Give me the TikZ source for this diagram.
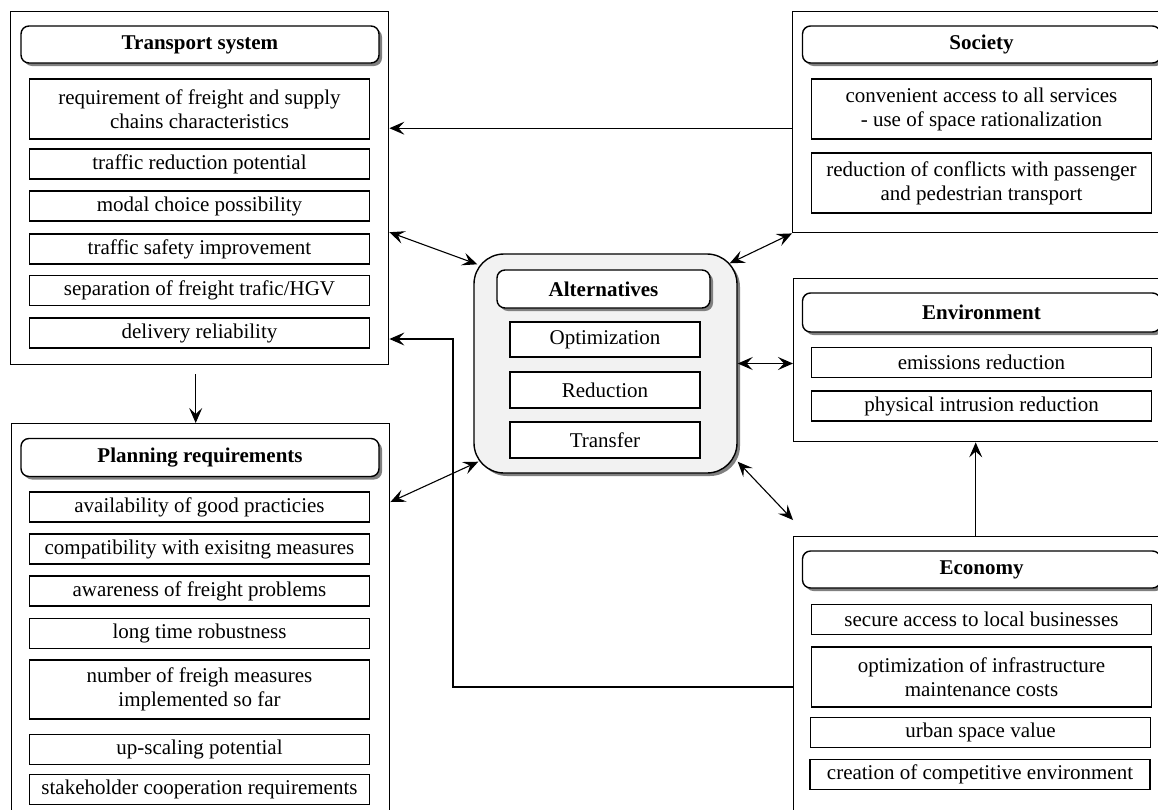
\documentclass[tikz,border=0pt]{standalone}
\usepackage{fontspec}
\setmainfont{Liberation Serif}
\usetikzlibrary{positioning, shadows, arrows.meta}
\tikzset{
    group/.style = {
        draw, line width = 1.4pt,
        minimum width = 378pt,
        anchor = north west, inner sep = 0pt
    },
    head/.style = {
        draw, line width = 1.4pt, fill = white,
        rounded corners = 8pt,
        minimum width = 358pt, minimum height = 37pt,
        inner sep = 0pt, font = \fontsize{21}{24}\selectfont\bfseries,
        drop shadow = {shadow xshift = 3pt, shadow yshift = -3pt, fill = black!50, opacity = 1}
    },
    item/.style = {
        draw, line width = 1.3pt, fill = white,
        minimum width = 340pt, minimum height = 30pt,
        inner sep = 0pt, align = center
    },
    >={Stealth[length=15pt, width=13pt, inset=6pt]},
    line/.style = {->, line width = 1.1pt},
    dline/.style = {<->, line width = 1.1pt}
}

\begin{document}
\begin{tikzpicture}[x=1pt, y=-1pt, font=\fontsize{21}{24}\selectfont]
    \useasboundingbox (0,0) rectangle (1158,809);

    % Groups
    \node[group, minimum height = 353pt] (transport) at (10,11) {};
    \node[group, minimum height = 392pt] (plan) at (11,423) {};
    \node[group, minimum height = 221pt] (society) at (792,11) {};
    \node[group, minimum height = 163pt] (env) at (793,278) {};
    \node[group, minimum height = 280pt] (econ) at (793,536) {};

    % Transport system
    \node[head] (transHead) at (200,44.5) {Transport system};
    \node[item, minimum height = 60pt] (tr1) at (199.5,109) {requirement of freight and supply\\chains characteristics};
    \node[item] (tr2) at (199.5,164) {traffic reduction potential};
    \node[item] (tr3) at (199.5,206) {modal choice possibility};
    \node[item] (tr4) at (199.5,249) {traffic safety improvement};
    \node[item] (tr5) at (199.5,290.5) {separation of freight trafic/HGV};
    \node[item] (tr6) at (199.5,333) {delivery reliability};

    % Planning requirements
    \node[head, minimum height = 38pt] (planHead) at (200,457.5) {Planning requirements};
    \node[item] (pl1) at (199.5,507) {availability of good practicies};
    \node[item] (pl2) at (199.5,549) {compatibility with exisitng measures};
    \node[item] (pl3) at (199.5,591) {awareness of freight problems};
    \node[item] (pl4) at (199.5,633.5) {long time robustness};
    \node[item, minimum height = 59pt] (pl5) at (199.5,689.5) {number of freigh measures\\implemented so far};
    \node[item] (pl6) at (199.5,749.5) {up-scaling potential};
    \node[item] (pl7) at (199.5,789.5) {stakeholder cooperation requirements};

    % Alternatives
    \node[draw, line width = 1.4pt, fill = black!5,
        rounded corners = 30pt,
        minimum width = 263pt, minimum height = 219pt,
        drop shadow = {shadow xshift = 3pt, shadow yshift = -3pt, fill = black!50, opacity = 1}
    ] (alt) at (605.5,363.5) {};
    \node[head, minimum width = 213pt, minimum height = 38pt] (altHead) at (603.5,289) {Alternatives};
    \node[item, minimum width = 190pt, minimum height = 35pt] (opt) at (605,339.5) {Optimization};
    \node[item, minimum width = 190pt, minimum height = 36pt] (red) at (605,390) {Reduction};
    \node[item, minimum width = 190pt, minimum height = 36pt] (trf) at (605,440) {Transfer};

    % Society
    \node[head] (socHead) at (981.5,44.5) {Society};
    \node[item, minimum height = 60pt] (so1) at (981.5,109) {convenient access to all services\\- use of space rationalization};
    \node[item, minimum height = 60pt] (so2) at (981.5,183) {reduction of conflicts with passenger\\and pedestrian transport};

    % Environment
    \node[head, minimum height = 39pt] (envHead) at (981.5,312.5) {Environment};
    \node[item] (en1) at (981.5,362.5) {emissions reduction};
    \node[item] (en2) at (981.5,406) {physical intrusion reduction};

    % Economy
    \node[head] (econHead) at (981.5,569.5) {Economy};
    \node[item] (ec1) at (981.5,619.5) {secure access to local businesses};
    \node[item, minimum height = 60pt] (ec2) at (981.5,677) {optimization of infrastructure\\maintenance costs};
    \node[item] (ec3) at (980.5,732.5) {urban space value};
    \node[item] (ec4) at (980,774.5) {creation of competitive environment};

    % Lines
    \coordinate (bend) at (453,339);
    \draw[line] ([yshift=-6pt]society.west) -- ([yshift=-6pt]society.west -| transport.east);
    \draw[dline] ([yshift=-44pt]transport.east) -- ([xshift=4pt, yshift=-11pt]alt.north west);
    \draw[dline] (society.south west) -- ([xshift=-8pt, yshift=-10pt]alt.north east);
    \draw[dline] (alt.east) -- (alt.east -| env.west);
    \draw[dline] ([yshift=-79pt]plan.north east) -- ([xshift=5pt, yshift=12pt]alt.south west);
    \draw[dline] ([yshift=12pt]alt.south east) -- ([yshift=16pt]econ.north west);
    \draw[line] ([xshift=-7pt]econ.north) -- ([xshift=-7pt]env.south);
    \draw[line] ([yshift=-151pt]econ.north west) -| (bend) -- (bend -| transport.east);
    \draw[line] ([xshift=-4pt, yshift=-9pt]transport.south) -- ([xshift=-5pt]plan.north);

\end{tikzpicture}
\end{document}
